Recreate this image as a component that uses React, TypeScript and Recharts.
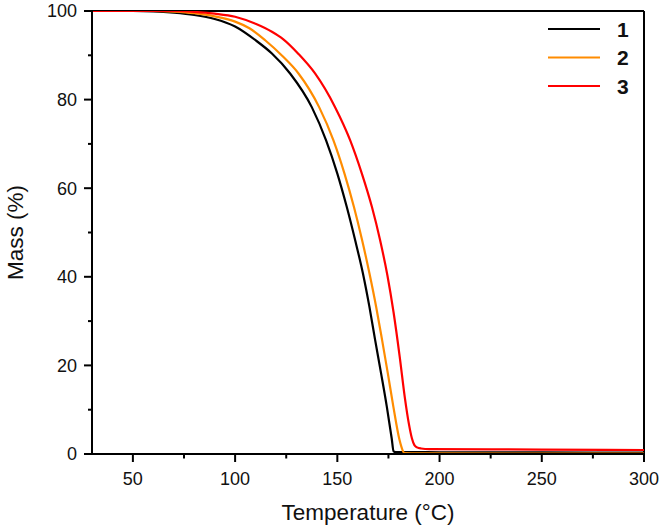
import React from 'react';
import { LineChart, Line, XAxis, YAxis, ReferenceLine, Legend } from 'recharts';

const temps1 = [30, 50, 60, 70, 80, 90, 100, 110, 118, 126.9, 137.5, 144.5, 150, 154.6, 158.7, 162.5, 165.7, 168.5, 171.4, 174.2, 176.6, 177.5, 178.5, 200, 250, 300];
const mass1 = [100, 100, 99.9, 99.6, 99.1, 98.2, 96.5, 93.4, 90.4, 85.9, 78.3, 70.8, 63.3, 55.8, 48.3, 40.8, 33.2, 25.7, 18.2, 10.7, 3.5, 0.6, 0.45, 0.4, 0.35, 0.3];

const temps2 = [30, 60, 70, 80, 90, 100, 107, 114.7, 123, 131, 141.1, 148.1, 153.5, 158.1, 162.1, 165.7, 169, 171.9, 174.7, 177.4, 180.4, 181.8, 182.8, 190, 250, 300];
const mass2 = [100, 100, 99.85, 99.5, 98.8, 97.6, 96.1, 93.4, 89.9, 85.9, 78.3, 70.8, 63.3, 55.8, 48.3, 40.8, 33.2, 25.7, 18.2, 10.7, 3.2, 1.0, 0.2, 0.15, 0.1, 0.1];

const temps3 = [30, 70, 80, 90, 100, 110, 118, 123.6, 131, 139.1, 148.9, 156.3, 162, 166.9, 170.9, 174.5, 177.5, 180.5, 183, 185, 186.5, 187.7, 189, 191, 195, 250, 300];
const mass3 = [100, 100, 99.8, 99.4, 98.7, 97.1, 95.3, 93.6, 90.3, 85.9, 78.3, 70.8, 63.3, 55.8, 48.3, 40.3, 32, 22, 12.8, 6.8, 3.5, 2.0, 1.5, 1.25, 1.1, 1.0, 0.9];

const seriesNames = ['1', '2', '3'];
const seriesColors = ['#000000', '#FF8C00', '#FF0000'];

const xTicks = [50, 75, 100, 125, 150, 175, 200, 225, 250, 275, 300];
const xMajor = [50, 100, 150, 200, 250, 300];
const yTicks = [0, 10, 20, 30, 40, 50, 60, 70, 80, 90, 100];
const yMajor = [0, 20, 40, 60, 80, 100];

const toData = (t: number[], m: number[]) => t.map((x, i) => ({ t: x, m: m[i] }));
const series = [toData(temps1, mass1), toData(temps2, mass2), toData(temps3, mass3)];

const FONT = '"Liberation Sans", Arial, sans-serif';

const XTick = (props: any) => {
  const { x, y, payload } = props;
  const major = xMajor.includes(payload.value);
  return (
    <g>
      <line x1={x} y1={y} x2={x} y2={y + (major ? 8 : 4.5)} stroke="#000" strokeWidth={2} />
      {major && (
        <text x={x} y={y + 31} textAnchor="middle" fontSize={18} fontFamily={FONT} fill="#111">
          {payload.value}
        </text>
      )}
    </g>
  );
};

const YTick = (props: any) => {
  const { x, y, payload } = props;
  const major = yMajor.includes(payload.value);
  return (
    <g>
      <line x1={x} y1={y} x2={x - (major ? 8 : 4)} y2={y} stroke="#000" strokeWidth={2} />
      {major && (
        <text x={x - 15} y={y} dy="0.36em" textAnchor="end" fontSize={18} fontFamily={FONT} fill="#111">
          {payload.value}
        </text>
      )}
    </g>
  );
};

const YLabel = (props: any) => {
  const { viewBox } = props;
  const cy = viewBox.y + viewBox.height / 2;
  return (
    <text x={23} y={cy} transform={`rotate(-90, 23, ${cy})`} textAnchor="middle" fontSize={22.5} fontFamily={FONT} fill="#111">
      Mass (%)
    </text>
  );
};

const XLabel = (props: any) => {
  const { viewBox } = props;
  const cx = viewBox.x + viewBox.width / 2;
  return (
    <text x={cx} y={520} textAnchor="middle" fontSize={22.5} fontFamily={FONT} fill="#111">
      Temperature (°C)
    </text>
  );
};

const LegendContent = (props: any) => {
  const payload = props.payload || [];
  return (
    <svg width={110} height={90} style={{ display: 'block' }}>
      {payload.map((p: any, i: number) => (
        <g key={i}>
          <line x1={8} y1={15 + i * 28.5} x2={60} y2={15 + i * 28.5} stroke={p.color} strokeWidth={2} />
          <text x={77} y={15 + i * 28.5} dy="0.36em" fontSize={21} fontWeight="bold" fontFamily={FONT} fill="#111">
            {p.value}
          </text>
        </g>
      ))}
    </svg>
  );
};

export default function App() {
  return (
    <div style={{ position: 'absolute', left: 0, top: 0, background: '#fff' }}>
      <LineChart width={666} height={527} margin={{ top: 11, right: 22, left: 0, bottom: 0 }}>
        <XAxis
          dataKey="t"
          type="number"
          domain={[30, 300]}
          ticks={xTicks}
          allowDataOverflow
          height={73}
          tickSize={0}
          tickMargin={0}
          tickLine={false}
          axisLine={{ stroke: '#000', strokeWidth: 2 }}
          tick={<XTick />}
          interval={0}
          label={<XLabel />}
        />
        <YAxis
          dataKey="m"
          type="number"
          domain={[0, 100]}
          ticks={yTicks}
          allowDataOverflow
          width={92}
          tickSize={0}
          tickMargin={0}
          tickLine={false}
          axisLine={{ stroke: '#000', strokeWidth: 2 }}
          tick={<YTick />}
          interval={0}
          label={<YLabel />}
        />
        <ReferenceLine y={100} stroke="#000" strokeWidth={2} />
        <ReferenceLine x={300} stroke="#000" strokeWidth={2} />
        {series.map((d, i) => (
          <Line
            key={i}
            data={d}
            dataKey="m"
            name={seriesNames[i]}
            type="monotone"
            stroke={seriesColors[i]}
            strokeWidth={2.2}
            dot={false}
            activeDot={false}
            isAnimationActive={false}
          />
        ))}
        <Legend
          layout="horizontal"
          verticalAlign="middle"
          align="center"
          content={<LegendContent />}
          wrapperStyle={{ top: 14, left: 540, width: 110, height: 90 }}
        />
      </LineChart>
    </div>
  );
}
